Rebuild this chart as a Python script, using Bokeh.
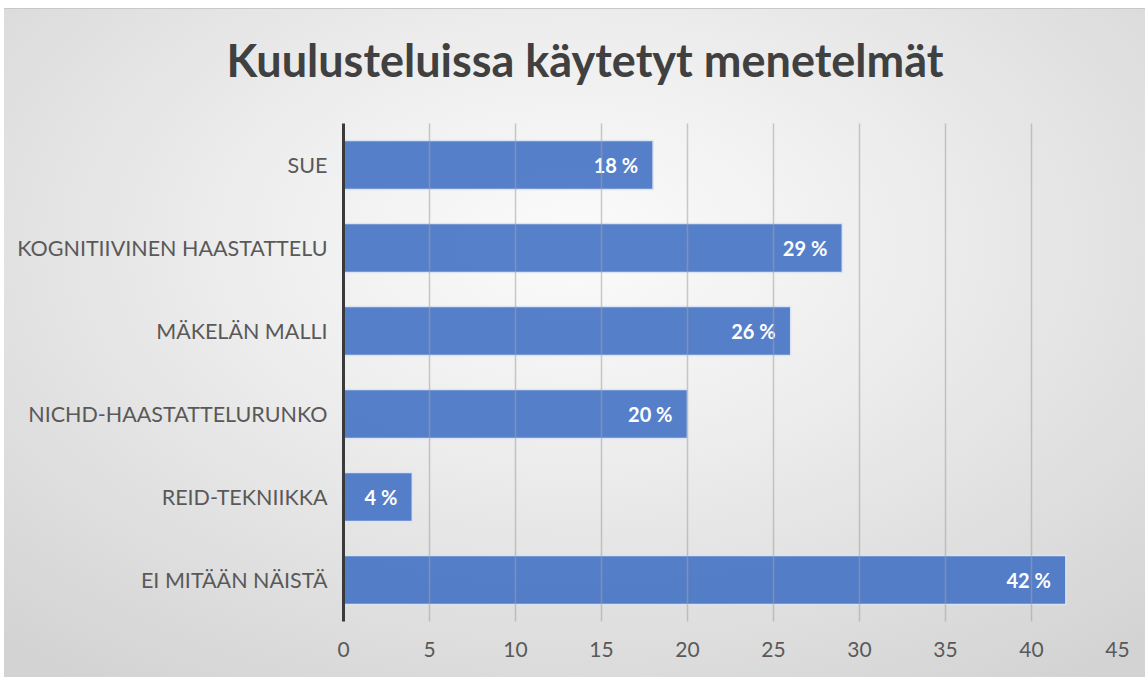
from bokeh.plotting import figure
from bokeh.models import ColumnDataSource, LabelSet, Range1d, FactorRange, Div
from bokeh.layouts import column
from bokeh.core.properties import value
from bokeh.embed import file_html
from bokeh.resources import INLINE

title_text = "Kuulusteluissa käytetyt menetelmät"
categories = ["SUE", "KOGNITIIVINEN HAASTATTELU", "MÄKELÄN MALLI",
              "NICHD-HAASTATTELURUNKO", "REID-TEKNIIKKA", "EI MITÄÄN NÄISTÄ"]
values = [18, 29, 26, 20, 4, 42]
labels = ["18 %", "29 %", "26 %", "20 %", "4 %", "42 %"]
x_ticks = [0, 5, 10, 15, 20, 25, 30, 35, 40, 45]

FONT = "Lato"

src = ColumnDataSource(dict(cat=categories, val=values, lab=labels))

title_div = Div(
    text=('<div style="width:1120px;margin-left:21px;margin-top:24px;text-align:center;'
          'font-family:Lato;font-weight:bold;font-size:45px;line-height:54px;'
          'color:#404040;white-space:nowrap;">' + title_text + '</div>'),
    width=1141, height=114, margin=(0, 0, 0, 0))

p = figure(width=1141, height=555, output_backend="svg", toolbar_location=None,
           x_range=Range1d(0, 45), y_range=FactorRange(factors=categories[::-1]),
           min_border_left=339, min_border_right=28, min_border_top=0, min_border_bottom=57)
p.margin = (0, 0, 0, 0)
p.background_fill_color = None
p.border_fill_color = None
p.outline_line_color = None

p.hbar(y="cat", right="val", left=0, height=0.59, source=src,
       fill_color="#4472C4", fill_alpha=0.9, line_color="#dbe4f4", line_width=1.5)

p.add_layout(LabelSet(x="val", y="cat", text="lab", source=src, x_offset=-15,
                      text_align="right", text_baseline="middle", text_color="white",
                      text_font=value(FONT), text_font_size="20px", text_font_style="bold"))

p.xaxis.ticker = x_ticks
p.xaxis.axis_line_color = None
p.xaxis.major_tick_line_color = None
p.xaxis.minor_tick_line_color = None
p.xaxis.major_label_text_font = FONT
p.xaxis.major_label_text_font_size = "21px"
p.xaxis.major_label_text_color = "#595959"
p.xaxis.major_label_standoff = 14

p.yaxis.axis_line_color = "#3a3a3a"
p.yaxis.axis_line_width = 3
p.yaxis.major_tick_line_color = None
p.yaxis.minor_tick_line_color = None
p.yaxis.major_label_text_font = FONT
p.yaxis.major_label_text_font_size = "21.5px"
p.yaxis.major_label_text_color = "#595959"
p.yaxis.major_label_standoff = 10

p.xgrid.grid_line_color = "#a0a0a0"
p.xgrid.grid_line_width = 1.5
p.xgrid.level = "overlay"
p.xgrid.grid_line_alpha = 0.55
p.ygrid.grid_line_color = None

layout = column(title_div, p, spacing=0)
layout.margin = (8, 0, 0, 4)
layout.styles = {"background-image": "radial-gradient(ellipse 75% 80% at 50% 35%, #fbfbfb 0%, #efefef 35%, #d3d3d3 100%)",
                 "border-top": "1px solid #c8c8c8"}

open("out.html", "w").write(file_html(layout, INLINE))
